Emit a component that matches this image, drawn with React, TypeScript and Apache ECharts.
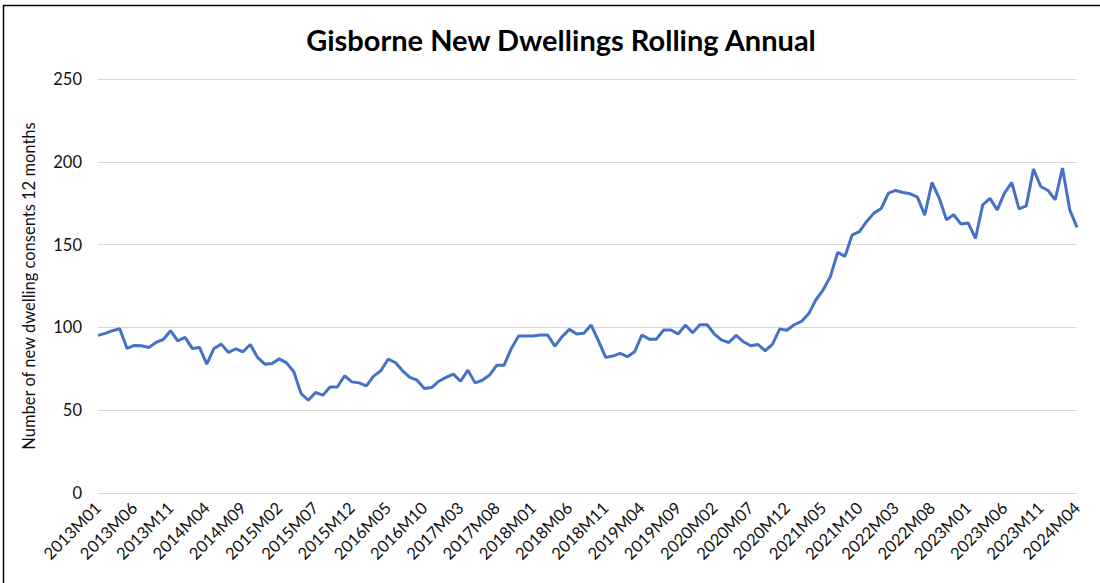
import React, { useEffect, useRef } from "react";
import * as echarts from "echarts";

const startYear = 2013;
const monthCount = 136;

const categories: string[] = [];
for (let i = 0; i < monthCount; i++) {
  const y = startYear + Math.floor(i / 12);
  const m = (i % 12) + 1;
  categories.push(`${y}M${m < 10 ? "0" + m : m}`);
}

const values2013_2015 = [
  95.2, 96.4, 98, 99.2, 87.3, 89.1, 88.9, 87.9, 90.9, 92.7, 98, 91.9,
  94, 87.3, 87.9, 77.8, 87.3, 89.9, 84.9, 87.1, 85.3, 89.7, 81.9, 77.8,
  78.2, 81, 78.6, 73.2, 60.1, 56, 60.7, 59.1, 64, 64, 70.8, 67.1,
];
const values2016_2018 = [
  66.5, 64.7, 70.6, 73.8, 80.8, 78.8, 73.8, 69.8, 68.1, 63.1, 63.7, 67.5,
  69.8, 71.8, 67.5, 74.2, 66.5, 68.1, 71.2, 77.2, 77.2, 87.3, 94.8, 94.8,
  94.8, 95.4, 95.4, 88.7, 94.4, 98.8, 96, 96.4, 101.4, 92, 81.9, 82.7,
];
const values2019_2021 = [
  84.3, 82.3, 85.3, 95.4, 92.9, 92.9, 98.4, 98.4, 96, 101.4, 96.8, 101.6,
  101.6, 96, 92.3, 90.9, 95.2, 91.3, 88.9, 89.7, 85.9, 89.7, 99, 98.3,
  101.6, 103.6, 108.2, 116.7, 122.7, 130.8, 145.3, 142.9, 155.9, 157.9, 164, 169,
];
const values2022_2024 = [
  171.8, 181.1, 182.7, 181.5, 180.7, 178.7, 167.8, 187.5, 178.1, 165, 168, 162.4,
  163, 153.7, 174, 177.9, 171, 181.1, 187.5, 171.6, 173.4, 195.6, 185.1, 182.7,
  177.1, 196.2, 171, 160.4,
];
const values = [...values2013_2015, ...values2016_2018, ...values2019_2021, ...values2022_2024];

const yTicks = [0, 50, 100, 150, 200, 250];

const FONT = "Lato, 'Open Sans', sans-serif";

export default function App() {
  const ref = useRef<HTMLDivElement>(null);
  useEffect(() => {
    if (!ref.current) return;
    const chart = echarts.init(ref.current, undefined, { renderer: "svg" });
    chart.setOption({
      animation: false,
      backgroundColor: "#ffffff",
      title: {
        text: "Gisborne New Dwellings Rolling Annual",
        left: 556,
        textAlign: "center",
        top: 20,
        textStyle: { fontFamily: FONT, fontSize: 29, fontWeight: "bold", color: "#000000" },
      },
      graphic: [
        {
          type: "rect",
          shape: { x: 3.5, y: 5.5, width: 1200, height: 700 },
          style: { fill: "none", stroke: "#000000", lineWidth: 1.5 },
          silent: true,
        },
      ],
      grid: { left: 98, right: 23, top: 79, bottom: 90, containLabel: false },
      xAxis: {
        type: "category",
        data: categories,
        boundaryGap: false,
        axisLine: { show: false },
        axisTick: { show: false },
        axisLabel: {
          interval: 4,
          rotate: 45,
          margin: 12,
          fontFamily: FONT,
          fontSize: 16.5,
          color: "#111111",
        },
        splitLine: { show: false },
      },
      yAxis: {
        type: "value",
        min: yTicks[0],
        max: yTicks[yTicks.length - 1],
        interval: 50,
        name: "Number of new dwelling consents 12 months",
        nameLocation: "middle",
        nameGap: 61,
        nameTextStyle: { fontFamily: FONT, fontSize: 16.5, color: "#111111" },
        axisLine: { show: false },
        axisTick: { show: false },
        axisLabel: { fontFamily: FONT, fontSize: 16.5, color: "#111111", margin: 16 },
        splitLine: { lineStyle: { color: "#d9d9d9", width: 1 } },
      },
      series: [
        {
          type: "line",
          data: values,
          symbol: "none",
          lineStyle: { color: "#4472C4", width: 3 },
          itemStyle: { color: "#4472C4" },
        },
      ],
    });
    return () => chart.dispose();
  }, []);
  return (
    <div
      ref={ref}
      style={{ position: "fixed", left: 0, top: 0, width: 1100, height: 583 }}
    />
  );
}
